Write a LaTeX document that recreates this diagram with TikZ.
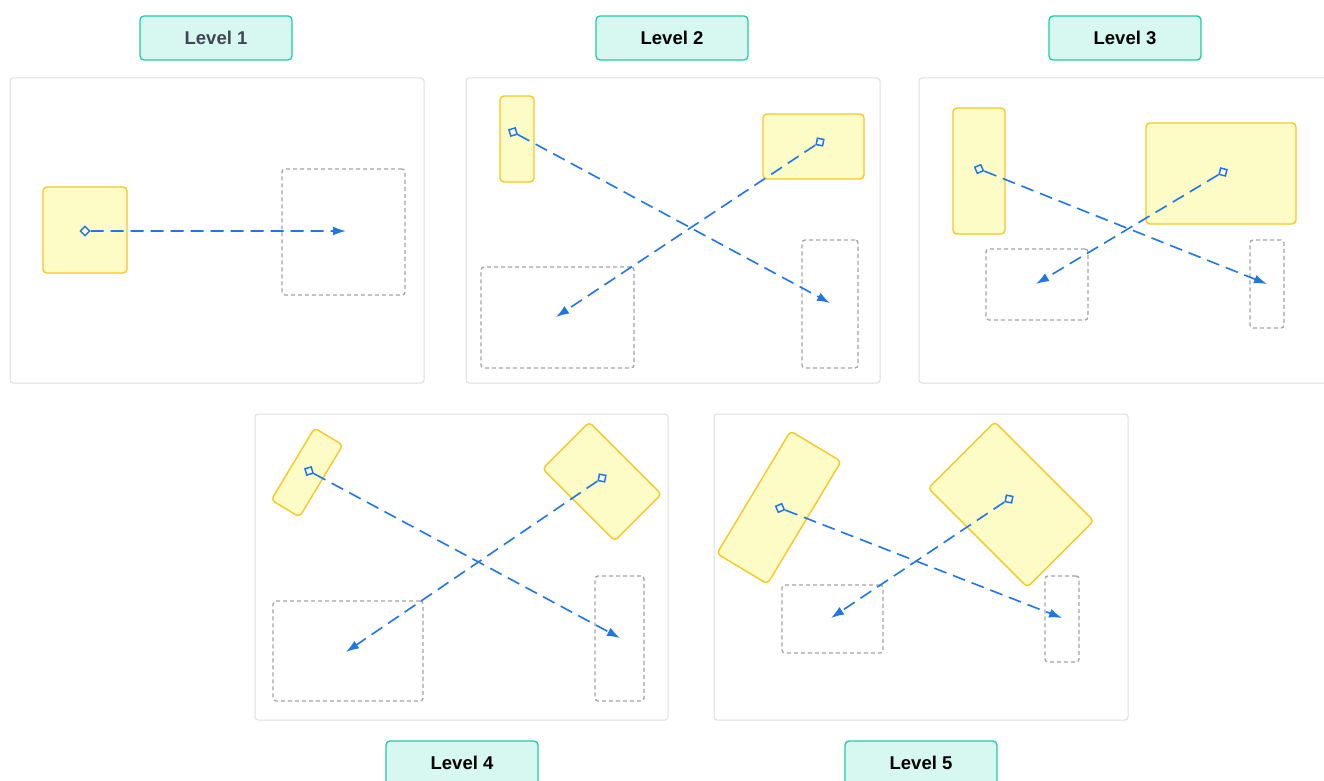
\documentclass[tikz,border=0pt]{standalone}
\usepackage{fontspec}
\setmainfont{Liberation Sans}
\usetikzlibrary{arrows.meta}
\definecolor{panelline}{HTML}{DEDEE3}
\definecolor{tagfill}{HTML}{D6F8F1}
\definecolor{tagline}{HTML}{22C9A8}
\definecolor{srcfill}{HTML}{FDFBC6}
\definecolor{srcline}{HTML}{F5C823}
\definecolor{tgtline}{HTML}{A2A2AA}
\definecolor{flowblue}{HTML}{1F76E5}
\definecolor{tagtext}{HTML}{404752}
\tikzset{
  panel/.style={draw=panelline, line width=1pt, rounded corners=3pt, fill=white, inner sep=0pt},
  tag/.style={draw=tagline, fill=tagfill, line width=1.3pt, rounded corners=4pt,
    minimum width=152pt, minimum height=44pt, inner sep=0pt,
    font=\fontsize{18.5}{21}\selectfont\bfseries, text=black},
  src/.style={draw=srcline, fill=srcfill, line width=1.4pt, rounded corners=4pt, inner sep=0pt},
  tgt/.style={draw=tgtline, line width=1.3pt, dash pattern=on 4pt off 3pt, rounded corners=3pt, inner sep=0pt},
  handle/.style={draw=flowblue, fill=white, line width=1.5pt, minimum size=6.5pt, inner sep=0pt, rectangle},
  flow/.style={draw=flowblue, line width=1.6pt, dash pattern=on 13pt off 7pt,
    -{Latex[length=13pt,width=9pt]}},
}
\newcommand{\boxat}[5]{\node[#1, minimum width=#4pt, minimum height=#5pt] (#2) at #3 {};}
\begin{document}
\begin{tikzpicture}[x=1pt,y=-1pt]
\useasboundingbox (0,0) rectangle (1324,781);

% panels
\boxat{panel}{p1}{(217,230.5)}{414}{305}
\boxat{panel}{p2}{(673,230.5)}{414}{305}
\boxat{panel}{p3}{(1126,230.5)}{414}{305}
\boxat{panel}{p4}{(461.5,567)}{413}{306}
\boxat{panel}{p5}{(921,567)}{414}{306}

% level labels
\node[tag, text=tagtext] (l1) at (216,38) {Level 1};
\node[tag] (l2) at (672,38) {Level 2};
\node[tag] (l3) at (1125,38) {Level 3};
\node[tag] (l4) at (462,763) {Level 4};
\node[tag] (l5) at (921,763) {Level 5};

% level 1
\boxat{src}{y1}{(85,230)}{84}{86}
\boxat{tgt}{g1}{(343.5,232)}{123}{126}
\node[handle, rotate=45] (m1) at (85,231) {};
\coordinate (t1) at (346,231);
\draw[flow] (m1) -- (t1);

% level 2
\boxat{src}{y2a}{(517,139)}{34}{86}
\boxat{src}{y2b}{(813.5,146.5)}{101}{65}
\boxat{tgt}{g2a}{(557.5,317.5)}{153}{101}
\boxat{tgt}{g2b}{(830,304)}{56}{128}
\node[handle, rotate=16.7] (m2a) at (513,132) {};
\node[handle, rotate=78.5] (m2b) at (820,142) {};
\coordinate (t2a) at (830,303);
\coordinate (t2b) at (556,317);
\draw[flow] (m2a) -- (t2a);
\draw[flow] (m2b) -- (t2b);

% level 3
\boxat{src}{y3a}{(979,171)}{52}{126}
\boxat{src}{y3b}{(1221,173.5)}{150}{101}
\boxat{tgt}{g3a}{(1037,284.5)}{102}{71}
\boxat{tgt}{g3b}{(1267,284)}{34}{88}
\node[handle, rotate=23.2] (m3a) at (979,169) {};
\node[handle, rotate=75.9] (m3b) at (1223,172) {};
\coordinate (t3a) at (1267,284);
\coordinate (t3b) at (1036,284);
\draw[flow] (m3a) -- (t3a);
\draw[flow] (m3b) -- (t3b);

% level 4
\node[src, minimum width=33pt, minimum height=84pt, rotate=-31] (y4a) at (307,472.5) {};
\node[src, minimum width=66pt, minimum height=102pt, rotate=45] (y4b) at (602,481.5) {};
\boxat{tgt}{g4a}{(348,651)}{150}{100}
\boxat{tgt}{g4b}{(619.5,638.5)}{49}{125}
\node[handle, rotate=16.8] (m4a) at (309,471) {};
\node[handle, rotate=79.2] (m4b) at (602,478) {};
\coordinate (t4a) at (620,638);
\coordinate (t4b) at (346,652);
\draw[flow] (m4a) -- (t4a);
\draw[flow] (m4b) -- (t4b);

% level 5
\node[src, minimum width=59pt, minimum height=143pt, rotate=-31] (y5a) at (779,507.5) {};
\node[src, minimum width=94pt, minimum height=140pt, rotate=45] (y5b) at (1011,504.5) {};
\boxat{tgt}{g5a}{(832.5,619)}{101}{68}
\boxat{tgt}{g5b}{(1062,619)}{34}{86}
\node[handle, rotate=23.7] (m5a) at (780,508) {};
\node[handle, rotate=78.8] (m5b) at (1009,499) {};
\coordinate (t5a) at (1062,618);
\coordinate (t5b) at (831,618);
\draw[flow] (m5a) -- (t5a);
\draw[flow] (m5b) -- (t5b);
\end{tikzpicture}
\end{document}
